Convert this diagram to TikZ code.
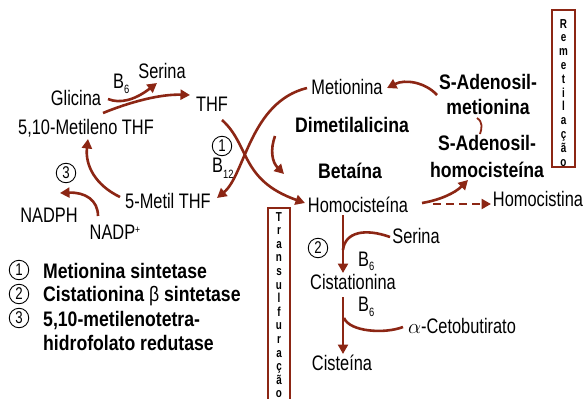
\documentclass[tikz,border=0pt]{standalone}
\usepackage{fontspec}
\setmainfont{Liberation Sans}[FakeStretch=0.78]
\newfontfamily\bsans{Liberation Sans}[FakeStretch=0.84]
\newfontfamily\vsans{Liberation Sans}[FakeStretch=0.76]
\usetikzlibrary{arrows.meta}
\definecolor{arr}{RGB}{140,38,20}
\newcommand\subs[2][5pt]{\raisebox{-#1}{\fontsize{12}{12}\selectfont #2}}
\tikzset{
  lbl/.style={inner sep=0pt, anchor=base, font=\fontsize{21}{23}\selectfont},
  bl/.style={inner sep=0pt, anchor=base, font=\fontsize{21}{23}\selectfont\bsans\bfseries},
  lbw/.style={inner sep=0pt, anchor=base west, font=\fontsize{21}{23}\selectfont},
  blw/.style={inner sep=0pt, anchor=base west, font=\fontsize{21}{23}\selectfont\bsans\bfseries},
  con/.style={draw=arr, line width=2.6pt, -{Triangle[length=9.5pt,width=10pt]}},
  plain/.style={draw=arr, line width=2.6pt},
  num/.style={circle, draw=black, line width=0.9pt, minimum size=19.5pt, inner sep=0pt, font=\fontsize{17}{17}\selectfont},
  vframe/.style={draw=arr, line width=2pt},
  vlet/.style={inner sep=0pt, anchor=base, font=\fontsize{13}{13}\selectfont\vsans\bfseries}
}
\begin{document}
\begin{tikzpicture}[x=1pt,y=-1pt]
\useasboundingbox[fill=white] (0,0) rectangle (587,399);

% folate cycle
\node[lbl] (serina) at (162,78) {Serina};
\node[lbl] (glicina) at (76,105) {Glicina};
\node[lbl] (thf) at (212,111) {THF};
\node[lbl] (metileno) at (86,134) {5,10-Metileno THF};
\node[lbl] (metil) at (168,208) {5-Metil THF};
\node[lbl] (nadph) at (49,222) {NADPH};
\node[lbl] (nadp) at (115,239) {NADP\raisebox{6pt}{\fontsize{11}{11}\selectfont +}};
\node[lbw] (b6a) at (113,88) {B\subs{6}};
\node[lbw] (b12) at (212,172) {B\subs[6pt]{12}};
\node[num] (c1) at (222,146) {1};
\node[num] (c3) at (66,173) {3};

% methionine cycle
\node[lbl] (metionina) at (347,94) {Metionina};
\node[bl] (dimetil) at (352,132) {Dimetilalicina};
\node[bl] (betaina) at (350,178) {Betaína};
\node[lbl] (homocis) at (358,212) {Homocisteína};
\node[bl] (sam1) at (488,89) {S-Adenosil-};
\node[bl] (sam2) at (488,114) {metionina};
\node[bl] (sah1) at (487,150) {S-Adenosil-};
\node[bl] (sah2) at (487,177) {homocisteína};
\node[lbl] (homocistina) at (538,206) {Homocistina};

% transsulfuration
\node[lbl] (serina2) at (416,243) {Serina};
\node[lbl] (cist) at (353,289) {Cistationina};
\node[lbl] (alpha) at (462,333) {$\alpha$-Cetobutirato};
\node[lbl] (cisteina) at (342,370) {Cisteína};
\node[lbw] (b6b) at (358,266) {B\subs[4pt]{6}};
\node[lbw] (b6c) at (358,311) {B\subs{6}};
\node[num] (c2) at (318,248) {2};

% legend
\node[num] (l1) at (19,270) {1};
\node[blw] (t1) at (43,278) {Metionina sintetase};
\node[num] (l2) at (19,294) {2};
\node[blw] (t2) at (43,301) {Cistationina {\fontseries{m}\selectfont β} sintetase};
\node[num] (l3) at (19,318) {3};
\node[blw] (t3) at (43,326) {5,10-metilenotetra-};
\node[blw] (t4) at (43,350) {hidrofolato redutase};

% vertical boxes
\draw[vframe] (268,401) -- (268,208) -- (290,208) -- (290,401);
\foreach \l [count=\i] in {T,r,a,n,s,u,l,f,u,r,a,ç,ã,o}
  \node[vlet] (tl\i) at (279,{221+(\i-1)*13.6}) {\l};
\draw[vframe] (552,10) rectangle (575,167);
\foreach \l [count=\i] in {R,e,m,e,t,i,l,a,ç,ã,o}
  \node[vlet] (rl\i) at (563.5,{28+(\i-1)*13.8}) {\l};

% connectors
\draw[con] ([shift={(32,-6)}]glicina.base) .. controls (120,104) and (135,100) .. ([shift={(-5,5)}]serina.base);
\draw[con] ([shift={(17,-21)}]metileno.base) .. controls (130,102) and (160,94) .. ([shift={(-22,-16)}]thf.base);
\draw[con] ([shift={(10,9)}]thf.base) .. controls (250,145) and (240,180) .. ([shift={(-53,-9)}]homocis.base);
\draw[con] ([shift={(-40,-6)}]metionina.base) .. controls (250,102) and (245,175) .. ([shift={(49,-10)}]metil.base);
\draw[con] ([shift={(-48,-11)}]metil.base) .. controls (95,185) and (85,165) .. ([shift={(2,5)}]metileno.base);
\draw[con] ([shift={(-17,-23)}]nadp.base) .. controls (98,200) and (85,192) .. ([shift={(11,-29)}]nadph.base);
\draw[con] ([shift={(-77,4)}]dimetil.base) .. controls (270,150) and (272,162) .. ([shift={(-66,-4)}]betaina.base);
\draw[con] ([shift={(-51,6)}]sam1.base) .. controls (425,82) and (405,79) .. ([shift={(40,-6)}]metionina.base);
\draw[plain, line width=1.8pt] ([shift={(-11,4)}]sam2.base) .. controls (483,122) and (482,128) .. ([shift={(-7,-16)}]sah1.base);
\draw[con] ([shift={(64,-9)}]homocis.base) .. controls (440,200) and (455,193) .. ([shift={(-19,3)}]sah2.base);
\draw[con, dashed, dash pattern=on 8pt off 5pt] ([shift={(75,-8)}]homocis.base) -- ([shift={(-47,-2)}]homocistina.base);
\draw[con] ([shift={(-15,3)}]homocis.base) -- ([shift={(-10,-16)}]cist.base);
\coordinate (j1) at (343,250);
\draw[plain] ([shift={(-26,-6)}]serina2.base) .. controls (365,228) and (345,232) .. (j1);
\draw[con] ([shift={(-10,8)}]cist.base) -- ([shift={(1,-16)}]cisteina.base);
\coordinate (j2) at (344,318);
\draw[plain] (j2) .. controls (350,332) and (385,334) .. ([shift={(-59,-6)}]alpha.base);
\end{tikzpicture}
\end{document}
